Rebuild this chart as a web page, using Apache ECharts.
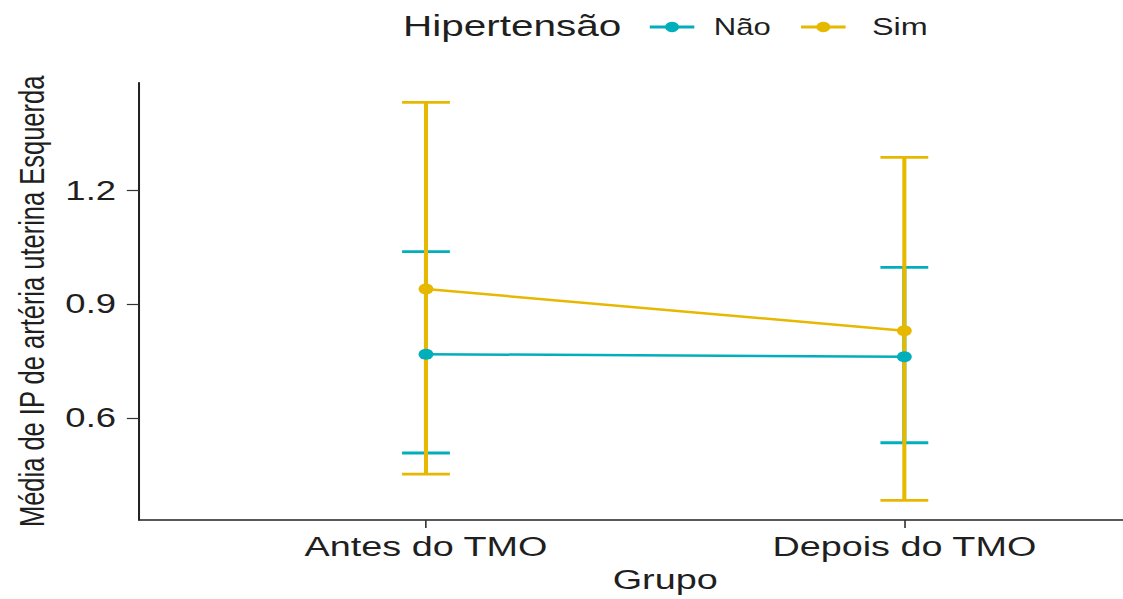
<!DOCTYPE html>
<html>
<head>
<meta charset="utf-8">
<script src="https://cdn.jsdelivr.net/npm/echarts@6/dist/echarts.min.js"></script>
<style>
html,body{margin:0;padding:0;background:#fff;overflow:hidden;width:1123px;height:599px;}
#wrap{width:1123px;height:599px;overflow:hidden;position:relative;}
#c{width:960px;height:599px;transform-origin:0 0;position:absolute;left:0;top:0;}
</style>
</head>
<body>
<div id="wrap"><div id="c"></div></div>
<script>
// ---- data ----
var categories = ['Antes do TMO', 'Depois do TMO'];
var yTicks = [0.6, 0.9, 1.2];
var naoMean = [0.768, 0.761];
var naoLow  = [0.507, 0.534];
var naoHigh = [1.039, 0.997];
var simMean = [0.940, 0.830];
var simLow  = [0.451, 0.382];
var simHigh = [1.433, 1.288];
var legendTitle = 'Hipertensão';
var seriesNames = ['Não', 'Sim'];

// ---- layout ----
var OUTER_W = 1123, REF_INNER_W = 832, INNER_W = 960;
var S = OUTER_W / REF_INNER_W;
document.getElementById('c').style.transform = 'scaleX(' + S + ')';

var colNao = '#00AFBB', colSim = '#E7B800';
var textCol = '#1f1f1f';
var font = 'Liberation Sans, Arial, sans-serif';

function pts(means) { return means.map(function (m, i) { return [i + 1, m]; }); }
function bars(lows, highs) { return lows.map(function (l, i) { return [i + 1, l, highs[i]]; }); }

function errRender(color) {
  return function (params, api) {
    var x = api.value(0), lo = api.value(1), hi = api.value(2);
    var pLo = api.coord([x, lo]), pHi = api.coord([x, hi]);
    var cL1 = api.coord([x - 0.05, lo]), cR1 = api.coord([x + 0.05, lo]);
    var cL2 = api.coord([x - 0.05, hi]), cR2 = api.coord([x + 0.05, hi]);
    var v = { stroke: color, lineWidth: 3.0 };
    var h = { stroke: color, lineWidth: 2.8 };
    return {
      type: 'group',
      children: [
        { type: 'line', shape: { x1: pLo[0], y1: pLo[1], x2: pHi[0], y2: pHi[1] }, style: v },
        { type: 'line', shape: { x1: cL1[0], y1: cL1[1], x2: cR1[0], y2: cR1[1] }, style: h },
        { type: 'line', shape: { x1: cL2[0], y1: cL2[1], x2: cR2[0], y2: cR2[1] }, style: h }
      ]
    };
  };
}

var chart = echarts.init(document.getElementById('c'), null, { renderer: 'svg', width: INNER_W, height: 599 });

var catSpacing = 354.4;
var gridLeft = 315.6 - 0.6 * catSpacing;

chart.setOption({
  animation: false,
  backgroundColor: '#fff',
  graphic: [{
    type: 'text', left: 298.5, top: 11,
    style: { text: legendTitle, fontSize: 30, fontFamily: font, fill: textCol }
  }],
  legend: {
    data: [
      { name: seriesNames[0] },
      { name: seriesNames[1], textStyle: { fontSize: 24, padding: [0, 0, 0, 14.5] } }
    ],
    left: 475, top: 10,
    itemWidth: 33, itemHeight: 13, itemGap: 21,
    lineStyle: { width: 2.8 },
    textStyle: { fontSize: 23, fontFamily: font, color: textCol, padding: [0, 0, 0, 9.5] }
  },
  grid: { left: gridLeft, top: 82.7, height: 437.3, width: 2.2 * catSpacing, containLabel: false },
  xAxis: {
    type: 'value', min: 0.4, max: 2.6,
    name: 'Grupo', nameLocation: 'middle', nameGap: 44,
    nameTextStyle: { fontSize: 28, fontFamily: font, color: textCol },
    axisLine: { show: true, lineStyle: { color: '#222', width: 1.5 } },
    axisTick: { show: true, customValues: [1, 2], length: 8, lineStyle: { color: '#333', width: 1.2 } },
    axisLabel: {
      customValues: [1, 2], margin: 12,
      fontSize: 28, fontFamily: font, color: textCol,
      formatter: function (v) { return categories[Math.round(v) - 1] || ''; }
    },
    splitLine: { show: false }
  },
  yAxis: {
    type: 'value', min: 0.33, max: 1.485,
    name: 'Média de IP de artéria uterina Esquerda', nameLocation: 'middle', nameGap: 66,
    nameTextStyle: { fontSize: 25.5, fontFamily: font, color: textCol },
    axisLine: { show: true, lineStyle: { color: '#222', width: 1.5 } },
    axisTick: { show: true, customValues: yTicks, length: 9, lineStyle: { color: '#333', width: 1.2 } },
    axisLabel: {
      customValues: yTicks, margin: 17,
      fontSize: 27, fontFamily: font, color: textCol,
      formatter: function (v) { return v.toFixed(1); }
    },
    splitLine: { show: false }
  },
  series: [
    { name: 'Não IC', type: 'custom', renderItem: errRender(colNao), data: bars(naoLow, naoHigh), z: 1, encode: { x: 0, y: [1, 2] } },
    { name: 'Sim IC', type: 'custom', renderItem: errRender(colSim), data: bars(simLow, simHigh), z: 1, encode: { x: 0, y: [1, 2] } },
    { name: 'Sim', type: 'line', data: pts(simMean), symbol: 'circle', symbolSize: 11, z: 3,
      itemStyle: { color: colSim }, lineStyle: { color: colSim, width: 2.5 } },
    { name: 'Não', type: 'line', data: pts(naoMean), symbol: 'circle', symbolSize: 11, z: 4,
      itemStyle: { color: colNao }, lineStyle: { color: colNao, width: 2.5 } }
  ]
});
</script>
</body>
</html>
